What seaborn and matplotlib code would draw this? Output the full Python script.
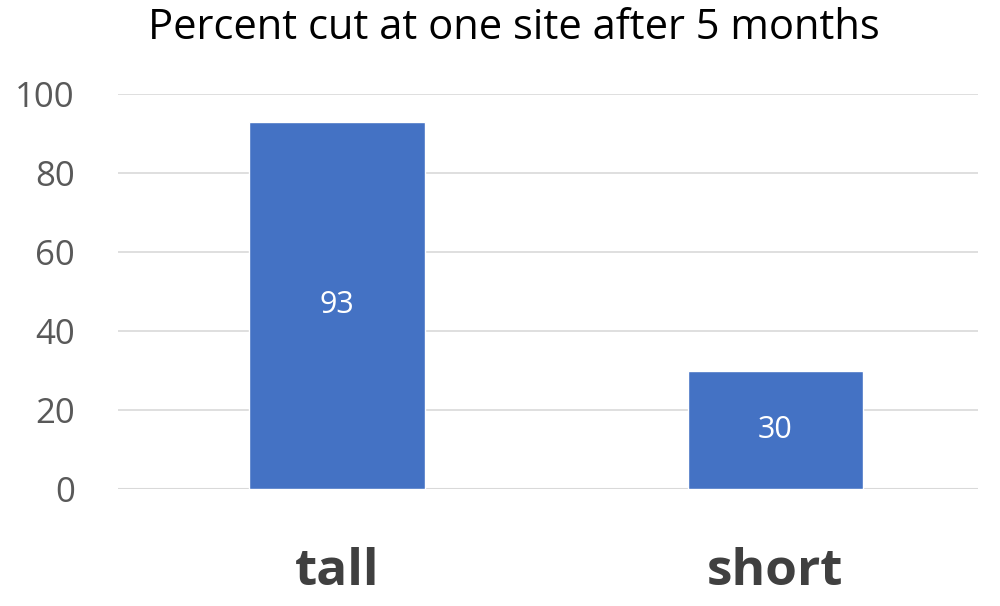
import pandas as pd
import matplotlib.pyplot as plt
import seaborn as sns

# Chart data
categories = ['tall', 'short']
percent_cut = [93, 30]
y_ticks = [0, 20, 40, 60, 80, 100]

df = pd.DataFrame({'height': categories, 'percent': percent_cut})

sns.set_style('white')
plt.rcParams['font.family'] = ['Open Sans', 'DejaVu Sans']

fig = plt.figure(figsize=(10, 6.06), dpi=100)
ax = fig.add_axes([0.118, 0.193, 0.86, 0.652])

sns.barplot(data=df, x='height', y='percent', color='#4472C4', width=0.40,
            saturation=1, ax=ax, zorder=3)

# value labels in the middle of each bar
for container in ax.containers:
    ax.bar_label(container, label_type='center', color='white', fontsize=22)

ax.set_ylim(0, 100)
ax.set_xlim(-0.5, 1.462)
ax.set_yticks(y_ticks)
ax.yaxis.grid(True, color='#D9D9D9', linewidth=1.2, zorder=0)
ax.set_axisbelow(True)
for side in ['top', 'right', 'left', 'bottom']:
    ax.spines[side].set_visible(False)
ax.axhline(0, color='#D9D9D9', linewidth=1.5, zorder=1)

ax.tick_params(axis='y', labelsize=25, labelcolor='#595959', length=0, pad=31)
ax.tick_params(axis='x', labelsize=37, labelcolor='#404040', length=0, pad=42)
for lbl in ax.get_xticklabels():
    lbl.set_fontweight('bold')

ax.set_xlabel('')
ax.set_ylabel('')
fig.suptitle('Percent cut at one site after 5 months', x=0.514, y=0.988,
             fontsize=30, color='black')

fig.savefig('out.png', dpi=100)
